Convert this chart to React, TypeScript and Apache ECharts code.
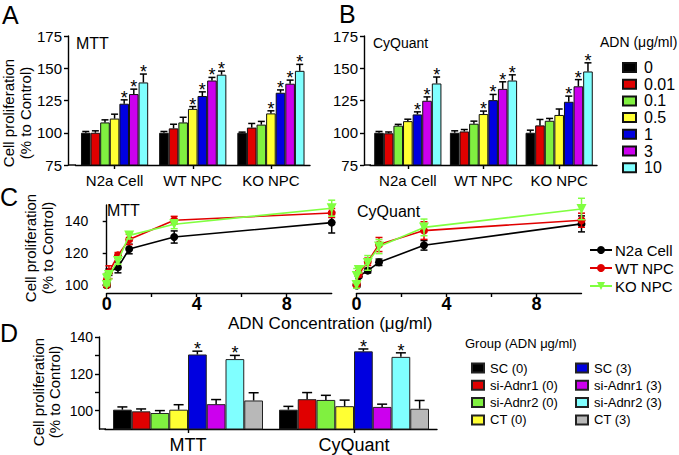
import React, { useEffect, useRef } from 'react';
import * as echarts from 'echarts';

const FONT = '"Liberation Sans", Arial, Helvetica, sans-serif';

// ---- Panels A, B, C: ADN concentrations ----
const concLabels = ['0', '0.01', '0.1', '0.5', '1', '3', '10'];
const concValues = [0, 0.01, 0.1, 0.5, 1, 3, 10];
const cellTypes = ['N2a Cell', 'WT NPC', 'KO NPC'];
const concColors = ['#000000', '#e00000', '#80f040', '#ffff33', '#0000e0', '#cc00ee', '#80ffff'];
const lineColors = ['#000000', '#e00000', '#80ff40'];

// MTT (% to control)
const mttN2a = [100, 100, 108, 111, 122.5, 130, 139];
const mttN2aErr = [1, 1.5, 2, 3.4, 3, 3.8, 6.5];
const mttWT = [100, 103.4, 108, 118.5, 128.5, 140.5, 145];
const mttWTErr = [1, 3.2, 4, 1.8, 3.2, 2.4, 2.8];
const mttKO = [100, 104, 106.3, 115, 131, 138, 148];
const mttKOErr = [0.5, 3.2, 2.5, 2, 2.2, 2.8, 5];
const mttStarN2a = [0, 0, 0, 0, 1, 1, 1];
const mttStarWT = [0, 0, 0, 1, 1, 1, 1];
const mttStarKO = [0, 0, 0, 1, 1, 1, 1];

// CyQuant (% to control)
const cyqN2a = [100, 99.6, 105.5, 109, 114.2, 124.8, 138.2];
const cyqN2aErr = [1, 1, 1, 1.5, 2, 3, 5];
const cyqWT = [100, 101, 107, 114.5, 125.3, 134, 140.5];
const cyqWTErr = [1.5, 1.5, 2, 2.3, 4.4, 5.5, 4.4];
const cyqKO = [100, 105.7, 109.3, 113.8, 124, 136, 147.5];
const cyqKOErr = [2, 4.6, 1.8, 4.6, 4.4, 5.2, 6.7];
const cyqStarN2a = [0, 0, 0, 0, 1, 1, 1];
const cyqStarWT = [0, 0, 0, 1, 1, 1, 1];
const cyqStarKO = [0, 0, 0, 0, 1, 1, 1];

// ---- Panel D ----
const assays = ['MTT', 'CyQuant'];
const dGroups = ['SC (0)', 'si-Adnr1 (0)', 'si-Adnr2 (0)', 'CT (0)', 'SC (3)', 'si-Adnr1 (3)', 'si-Adnr2 (3)', 'CT (3)'];
const dColors = ['#000000', '#e00000', '#80f040', '#ffff33', '#0000e0', '#cc00ee', '#80ffff', '#b8b8b8'];
const dMTT = [100.5, 99.6, 98.7, 100.5, 130.5, 103.5, 128, 105.5];
const dMTTErr = [1.5, 1.3, 1.3, 2.7, 1.8, 2.5, 2, 4.2];
const dCyq = [100.5, 106.2, 105.8, 102.4, 132.2, 102, 129.2, 101];
const dCyqErr = [1.8, 3.6, 2.5, 3.3, 1.3, 1.5, 2.2, 4.5];
const dStars = [0, 0, 0, 0, 1, 0, 1, 0];

const T = (extra: any) => ({ fontFamily: FONT, fill: '#000', ...extra });

function barErrRender(n: number, bw: number, cw: number, starSize: number) {
  return (_p: any, api: any) => {
    const cat = api.value(0);
    const si = api.value(1);
    const v = api.value(2);
    const e = api.value(3);
    const star = api.value(4);
    const p0 = api.coord([cat, v]);
    const p1 = api.coord([cat, v + e]);
    const x = p0[0] + (si - (n - 1) / 2) * bw;
    const children: any[] = [
      { type: 'line', shape: { x1: x, y1: p0[1], x2: x, y2: p1[1] }, style: { stroke: '#000', lineWidth: 1.5 } },
      { type: 'line', shape: { x1: x - cw, y1: p1[1], x2: x + cw, y2: p1[1] }, style: { stroke: '#000', lineWidth: 1.5 } },
    ];
    if (star) {
      children.push({
        type: 'text',
        x,
        y: p1[1] - 2,
        style: T({ text: '*', fontSize: starSize, lineHeight: 12, align: 'center', textAlign: 'center', verticalAlign: 'middle', textVerticalAlign: 'middle' }),
      });
    }
    return { type: 'group', children };
  };
}

function lineErrRender(color: string) {
  return (_p: any, api: any) => {
    const x = api.value(0);
    const v = api.value(1);
    const e = api.value(2);
    const pl = api.coord([x, v - e]);
    const ph = api.coord([x, v + e]);
    const st = { stroke: color, lineWidth: 1.5 };
    return {
      type: 'group',
      children: [
        { type: 'line', shape: { x1: pl[0], y1: pl[1], x2: ph[0], y2: ph[1] }, style: st },
        { type: 'line', shape: { x1: pl[0] - 3.5, y1: pl[1], x2: pl[0] + 3.5, y2: pl[1] }, style: st },
        { type: 'line', shape: { x1: ph[0] - 3.5, y1: ph[1], x2: ph[0] + 3.5, y2: ph[1] }, style: st },
      ],
    };
  };
}

const axisLineStyle = { color: '#000', width: 1.4 };

function catX(gridIndex: number, data: string[], fontSize: number, margin: number) {
  return {
    type: 'category', gridIndex, data,
    axisLine: { show: true, onZero: false, lineStyle: axisLineStyle },
    axisTick: { show: true, alignWithLabel: true, length: 4, lineStyle: axisLineStyle },
    axisLabel: { fontSize, color: '#000', fontFamily: FONT, margin, interval: 0, hideOverlap: false },
    splitLine: { show: false },
  };
}

function valX(gridIndex: number) {
  return {
    type: 'value', gridIndex, min: 0, max: 10, interval: 2, offset: 8,
    axisLine: { show: true, onZero: false, lineStyle: axisLineStyle },
    axisTick: { show: true, length: 4, lineStyle: axisLineStyle, customValues: [0, 2, 4, 6, 8] },
    axisLabel: { fontSize: 18, lineHeight: 15, fontWeight: 'bold', color: '#000', fontFamily: FONT, margin: 3, customValues: [0, 4, 8] },
    splitLine: { show: false },
  };
}

export default function App() {
  const ref = useRef<HTMLDivElement>(null);
  useEffect(() => {
    document.body.style.margin = '0';
    if (!ref.current) return;
    const chart = echarts.init(ref.current, undefined, { renderer: 'svg' });

    const mttBy = [mttN2a, mttWT, mttKO];
    const mttErrBy = [mttN2aErr, mttWTErr, mttKOErr];
    const mttStarBy = [mttStarN2a, mttStarWT, mttStarKO];
    const cyqBy = [cyqN2a, cyqWT, cyqKO];
    const cyqErrBy = [cyqN2aErr, cyqWTErr, cyqKOErr];
    const cyqStarBy = [cyqStarN2a, cyqStarWT, cyqStarKO];

    const series: any[] = [];
    const bwAB = 9.6;
    // A & B bars
    [
      { vals: mttBy, errs: mttErrBy, stars: mttStarBy, axis: 0 },
      { vals: cyqBy, errs: cyqErrBy, stars: cyqStarBy, axis: 1 },
    ].forEach((p) => {
      concLabels.forEach((name, i) => {
        series.push({
          type: 'bar', name, xAxisIndex: p.axis, yAxisIndex: p.axis,
          barWidth: bwAB, barGap: '0%',
          data: p.vals.map((arr) => arr[i]),
          itemStyle: { color: concColors[i], borderColor: '#111', borderWidth: 1 },
          z: 2,
        });
      });
      const errData: any[] = [];
      p.vals.forEach((arr, c) => arr.forEach((v, i) => errData.push([c, i, v, p.errs[c][i], p.stars[c][i]])));
      series.push({
        type: 'custom', name: 'err' + p.axis, xAxisIndex: p.axis, yAxisIndex: p.axis,
        renderItem: barErrRender(7, bwAB, 3.5, 18), data: errData, encode: { x: 0, y: 2 }, z: 3, clip: false,
      });
    });

    // C lines
    [
      { vals: mttBy, errs: mttErrBy, axis: 2 },
      { vals: cyqBy, errs: cyqErrBy, axis: 3 },
    ].forEach((p) => {
      cellTypes.forEach((name, c) => {
        series.push({
          type: 'custom', name: 'lerr' + p.axis + c, xAxisIndex: p.axis, yAxisIndex: p.axis,
          renderItem: lineErrRender(lineColors[c]),
          data: concValues.map((x, i) => [x, p.vals[c][i], p.errs[c][i]]),
          encode: { x: 0, y: 1 }, z: 3 + c * 2, clip: false,
        });
        series.push({
          type: 'line', name, xAxisIndex: p.axis, yAxisIndex: p.axis,
          data: concValues.map((x, i) => [x, p.vals[c][i]]),
          symbol: c === 2 ? 'triangle' : 'circle', symbolRotate: c === 2 ? 180 : 0,
          symbolSize: c === 2 ? 10 : 8,
          itemStyle: { color: lineColors[c] },
          lineStyle: { color: lineColors[c], width: 1.6 },
          z: 4 + c * 2, clip: false,
        });
      });
    });

    // D bars
    const bwD = 18.75;
    dGroups.forEach((name, i) => {
      series.push({
        type: 'bar', name, xAxisIndex: 4, yAxisIndex: 4, barWidth: bwD, barGap: '0%',
        data: [dMTT[i], dCyq[i]],
        itemStyle: { color: dColors[i], borderColor: '#222', borderWidth: 1 },
        z: 2,
      });
    });
    const dErrData: any[] = [];
    [dMTT, dCyq].forEach((arr, c) => arr.forEach((v, i) => dErrData.push([c, i, v, [dMTTErr, dCyqErr][c][i], dStars[i]])));
    series.push({
      type: 'custom', name: 'errD', xAxisIndex: 4, yAxisIndex: 4,
      renderItem: barErrRender(8, bwD, 5, 18), data: dErrData, encode: { x: 0, y: 2 }, z: 3, clip: false,
    });

    const yBase = (gridIndex: number, extra: any, fontSize: number) => ({
      type: 'value', gridIndex,
      axisLine: { show: true, lineStyle: axisLineStyle },
      axisTick: { show: true, length: 4, lineStyle: axisLineStyle },
      axisLabel: { fontSize, lineHeight: fontSize - 2, color: '#000', fontFamily: FONT, margin: 6 },
      splitLine: { show: false },
      ...extra,
    });

    const yTitle = (x: number, y: number) => ({
      type: 'text', x, y, rotation: Math.PI / 2,
      style: T({ text: 'Cell proliferation\n(% to Control)', fontSize: 15, lineHeight: 16.5, align: 'center', textAlign: 'center', verticalAlign: 'middle', textVerticalAlign: 'middle' }),
    });
    const label = (text: string, x: number, y: number, fontSize: number, lineHeight?: number) => ({
      type: 'text', x, y,
      style: T({ text, fontSize, lineHeight: lineHeight || fontSize, align: 'left', textAlign: 'left', verticalAlign: 'middle', textVerticalAlign: 'middle' }),
    });
    const hline = (x1: number, x2: number, y: number) => ({
      type: 'line', shape: { x1, y1: y, x2, y2: y }, style: { stroke: '#000', lineWidth: 1.4 },
    });

    const option: any = {
      animation: false,
      backgroundColor: '#ffffff',
      textStyle: { fontFamily: FONT, color: '#000' },
      grid: [
        { left: 75.5, top: 36, width: 234.5, height: 129 },
        { left: 370, top: 36, width: 227, height: 129 },
        { left: 106.7, top: 205, width: 225, height: 80 },
        { left: 356.5, top: 205, width: 225, height: 80 },
        { left: 105, top: 337, width: 332, height: 92 },
      ],
      xAxis: [
        catX(0, cellTypes, 15, 8),
        catX(1, cellTypes, 15, 8),
        valX(2),
        valX(3),
        catX(4, assays, 18, 7),
      ],
      yAxis: [
        yBase(0, { min: 75, max: 175, interval: 25, offset: 7.5 }, 15),
        yBase(1, { min: 75, max: 175, interval: 25, offset: 6 }, 15),
        yBase(2, {
          min: 100, max: 150, interval: 10, offset: 12.5,
          axisTick: { show: true, length: 4, lineStyle: axisLineStyle, customValues: [100, 120, 140] },
          axisLabel: { fontSize: 14, lineHeight: 12, color: '#000', fontFamily: FONT, margin: 6, customValues: [100, 120, 140] },
        }, 14),
        yBase(3, { min: 100, max: 150, show: false }, 14),
        yBase(4, {
          min: 90, max: 140, interval: 10, offset: 6,
          axisTick: { show: true, length: 4, lineStyle: axisLineStyle, customValues: [100, 110, 120, 130, 140] },
          axisLabel: { fontSize: 14, lineHeight: 12, color: '#000', fontFamily: FONT, margin: 6, customValues: [100, 120, 140] },
        }, 14),
      ],
      legend: [
        {
          data: concLabels, orient: 'vertical', left: 617, top: 54.5, itemWidth: 13, itemHeight: 9, itemGap: 0.7,
          icon: 'rect', selectedMode: false,
          textStyle: { fontSize: 16, lineHeight: 16, color: '#000', fontFamily: FONT, padding: [0, 0, 0, 3] },
        },
        {
          data: cellTypes, orient: 'vertical', left: 584, top: 237.5, itemWidth: 22, itemHeight: 10, itemGap: 3,
          selectedMode: false,
          textStyle: { fontSize: 15, lineHeight: 15, color: '#000', fontFamily: FONT, padding: [0, 0, 0, -2] },
        },
        {
          data: dGroups.slice(0, 4), orient: 'vertical', left: 466, top: 356.5, itemWidth: 12, itemHeight: 9, itemGap: 4.3,
          icon: 'rect', selectedMode: false,
          textStyle: { fontSize: 13, lineHeight: 13, color: '#000', fontFamily: FONT, padding: [0, 0, 0, 1] },
        },
        {
          data: dGroups.slice(4), orient: 'vertical', left: 570, top: 356.5, itemWidth: 12, itemHeight: 9, itemGap: 4.3,
          icon: 'rect', selectedMode: false,
          textStyle: { fontSize: 13, lineHeight: 13, color: '#000', fontFamily: FONT, padding: [0, 0, 0, 1] },
        },
      ],
      graphic: [
        label('A', 2, 15, 25, 18),
        label('B', 339, 14, 25, 18),
        label('C', 0, 197, 25, 18),
        label('D', 0, 333, 25, 18),
        label('MTT', 76, 43, 16),
        label('CyQuant', 373, 43, 14),
        label('MTT', 107, 210, 16),
        label('CyQuant', 357, 211, 16),
        label('ADN (\u03bcg/ml)', 600, 42, 14),
        label('Group (ADN \u03bcg/ml)', 465, 343, 13),
        label('ADN Concentration (\u03bcg/ml)', 228, 323, 17, 15),
        yTitle(17, 113),
        yTitle(39, 248),
        yTitle(46.5, 392),
        hline(68, 76, 165),
        hline(364, 371, 165),
        hline(99, 106, 429),
      ],
      series,
    };
    chart.setOption(option);
    return () => chart.dispose();
  }, []);
  return <div ref={ref} style={{ width: 679, height: 455 }} />;
}
